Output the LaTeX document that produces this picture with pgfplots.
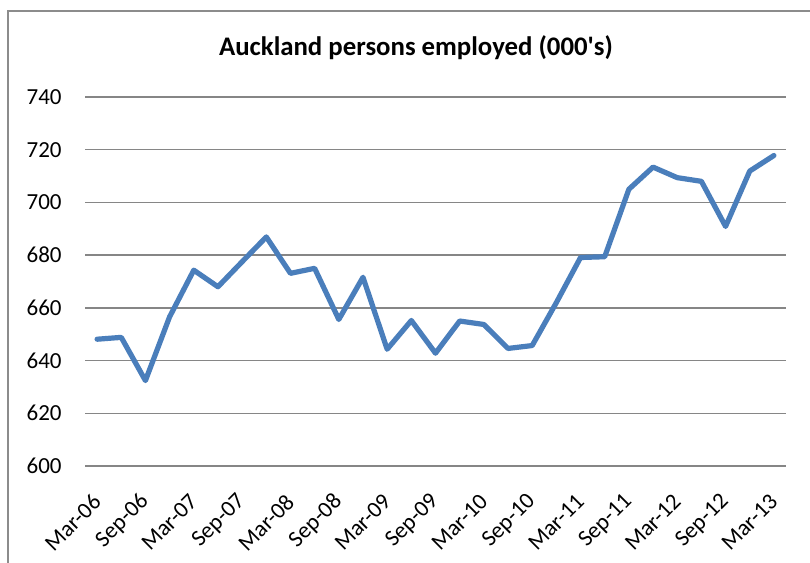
\documentclass[border=0pt]{standalone}
\usepackage{pgfplots}
\pgfplotsset{compat=1.18}
\usepackage{fontspec}
\setmainfont{Carlito}[Ligatures=TeXOff]
\definecolor{gridgray}{RGB}{134,134,134}
\definecolor{framegray}{RGB}{140,140,140}
\definecolor{lineblue}{RGB}{74,126,187}
\begin{document}
\begin{tikzpicture}
\useasboundingbox (0,0) rectangle (405pt,281.5pt);
\fill[white] (0,0) rectangle (405pt,281.5pt);
\draw[framegray, line width=0.8pt] (4pt,0) -- (4pt,276pt) -- (405pt,276pt);
\node[anchor=base, inner sep=0pt, font=\fontsize{13.4}{16}\selectfont\bfseries] at (208pt,253.5pt) {Auckland persons employed (000's)};
\begin{axis}[
  at={(42.5pt,48.5pt)}, anchor=south west,
  scale only axis, width=350.5pt, height=184.5pt,
  xmin=-0.5, xmax=28.5, ymin=600, ymax=740,
  ytick={600,620,...,740},
  xtick={0,2,...,28},
  xticklabels={Mar-06,Sep-06,Mar-07,Sep-07,Mar-08,Sep-08,Mar-09,Sep-09,Mar-10,Sep-10,Mar-11,Sep-11,Mar-12,Sep-12,Mar-13},
  ymajorgrids,
  grid style={gridgray, line width=0.75pt},
  axis line style={draw=none},
  major tick length=0pt,
  /pgf/number format/assume math mode=true,
  tick label style={font=\fontsize{11.5}{14}\selectfont},
  yticklabel style={anchor=east, inner sep=0pt, xshift=-11.5pt},
  xticklabel style={rotate=45, anchor=east, inner sep=0pt},
  xticklabel shift=16pt,
  clip=false,
]
\addplot[lineblue, line width=2.6pt, line join=round, line cap=round] coordinates {
(0,648.1) (1,648.8) (2,632.4) (3,656.6) (4,674.3) (5,668.0) (6,677.5) (7,686.9)
(8,673.1) (9,675.0) (10,655.6) (11,671.6) (12,644.3) (13,655.2) (14,642.8)
(15,655.0) (16,653.7) (17,644.6) (18,645.7) (19,662.0) (20,679.1) (21,679.4)
(22,705.0) (23,713.4) (24,709.4) (25,708.0) (26,690.9) (27,711.9) (28,717.8)
};
\end{axis}
\end{tikzpicture}
\end{document}
